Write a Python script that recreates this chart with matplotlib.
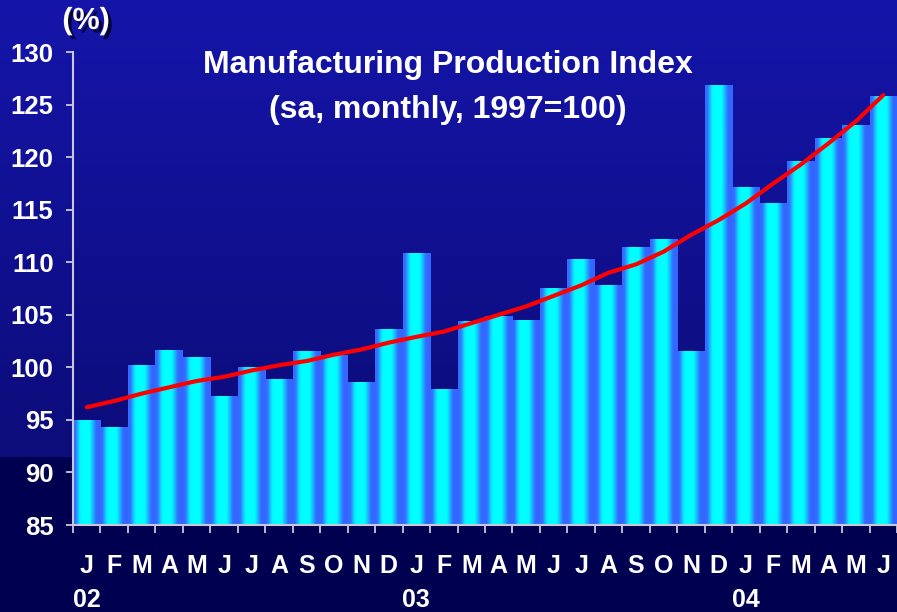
import numpy as np
import matplotlib
matplotlib.use('Agg')
import matplotlib.pyplot as plt
import matplotlib.patheffects as pe
from matplotlib.colors import LinearSegmentedColormap
from matplotlib.transforms import blended_transform_factory

plt.rcParams['font.family'] = ['Liberation Sans', 'DejaVu Sans']

months = list('JFMAMJJASOND' * 2 + 'JFMAMJ')
years = {0: '02', 12: '03', 24: '04'}
index_vals = [94.9, 94.3, 100.2, 101.6, 100.9, 97.2, 100.0, 98.8, 101.5, 101.1,
              98.6, 103.6, 110.8, 97.9, 104.4, 104.8, 104.5, 107.5, 110.3, 107.8,
              111.4, 112.2, 101.5, 126.8, 117.1, 115.6, 119.6, 121.8, 123.0, 125.8]
trend_vals = [96.2, 96.8, 97.5, 98.1, 98.7, 99.1, 99.7, 100.2, 100.6, 101.2,
              101.7, 102.35, 102.9, 103.4, 104.2, 105.0, 105.8, 106.8, 107.8, 109.0,
              109.8, 111.0, 112.6, 114.0, 115.6, 117.5, 119.3, 121.3, 123.4, 125.9]
yticks = list(range(85, 131, 5))

fig = plt.figure(figsize=(8.97, 6.12), dpi=100)

# background gradient over the whole figure
bg = fig.add_axes([0, 0, 1, 1], zorder=0)
bg.axis('off')
rows = 612
top = np.array([0x15, 0x15, 0xaa]) / 255.0
mid = np.array([0x0c, 0x0c, 0x7a]) / 255.0
low = np.array([0x00, 0x00, 0x50]) / 255.0
grad = np.zeros((rows, 1, 3))
cut = 457
for r in range(rows):
    if r < cut:
        t = r / cut
        grad[r, 0] = top * (1 - t) + mid * t
    else:
        grad[r, 0] = low
bg.imshow(grad, aspect='auto', extent=[0, 1, 0, 1])
bg.set_xlim(0, 1)
bg.set_ylim(0, 1)

ax = fig.add_axes([73 / 897, 87 / 612, 1 - 73 / 897, (525 - 52) / 612], zorder=1)
ax.patch.set_alpha(0)

bar_cmap = LinearSegmentedColormap.from_list(
    'bars', [(0.0, '#3668ff'), (0.08, '#3470ff'), (0.24, '#08eeff'),
             (0.3, '#00ffff'), (0.6, '#00ffff'), (0.84, '#3468ff'),
             (1.0, '#3366ff')])
strip = np.linspace(0, 1, 64).reshape(1, -1)
for i, v in enumerate(index_vals):
    ax.imshow(strip, cmap=bar_cmap, aspect='auto', interpolation='bicubic',
              extent=[i - 0.5, i + 0.5, 85, v], zorder=2)

x = np.arange(len(months))
ax.plot(x, trend_vals, color='#ff0000', lw=3, zorder=3, solid_capstyle='round')

ax.set_xlim(-0.5, len(months) - 0.5)
ax.set_ylim(85, 130)

for s in ['top', 'right']:
    ax.spines[s].set_visible(False)
for s in ['left', 'bottom']:
    ax.spines[s].set_color('#c8c8d8')
    ax.spines[s].set_linewidth(1.5)
    ax.spines[s].set_zorder(4)

ax.set_yticks(yticks)
ax.set_yticklabels([str(t) for t in yticks], color='white', fontsize=18.5,
                   fontweight='bold')
ax.tick_params(axis='y', direction='out', length=5, width=1.3, color='#c8c8d8',
               pad=9)

ax.set_xticks(np.arange(-0.5, len(months), 1), minor=True)
ax.set_xticks([])
ax.tick_params(axis='x', which='minor', direction='out', length=6, width=1.3,
               color='#c8c8d8')

tr = blended_transform_factory(ax.transData, fig.transFigure)
for i, m in enumerate(months):
    ax.text(i, 1 - 573 / 612, m, transform=tr, ha='center', va='baseline',
            color='white', fontsize=18, fontweight='bold')
for i, y in years.items():
    ax.text(i, 1 - 607 / 612, y, transform=tr, ha='center', va='baseline',
            color='white', fontsize=18, fontweight='bold')

fig.text(448 / 897, 1 - 73 / 612, 'Manufacturing Production Index',
         ha='center', va='baseline', color='white', fontsize=23,
         fontweight='bold', zorder=5)
fig.text(448 / 897, 1 - 118 / 612, '(sa, monthly, 1997=100)',
         ha='center', va='baseline', color='white', fontsize=23,
         fontweight='bold', zorder=5)

fig.text(86 / 897, 1 - 29 / 612, '(%)', ha='center', va='baseline',
         color='white', fontsize=22, fontweight='bold', zorder=6,
         path_effects=[pe.withSimplePatchShadow(offset=(2.5, -2.5),
                                                shadow_rgbFace='#05053a',
                                                alpha=1.0)])

fig.savefig('out.png', dpi=100)
